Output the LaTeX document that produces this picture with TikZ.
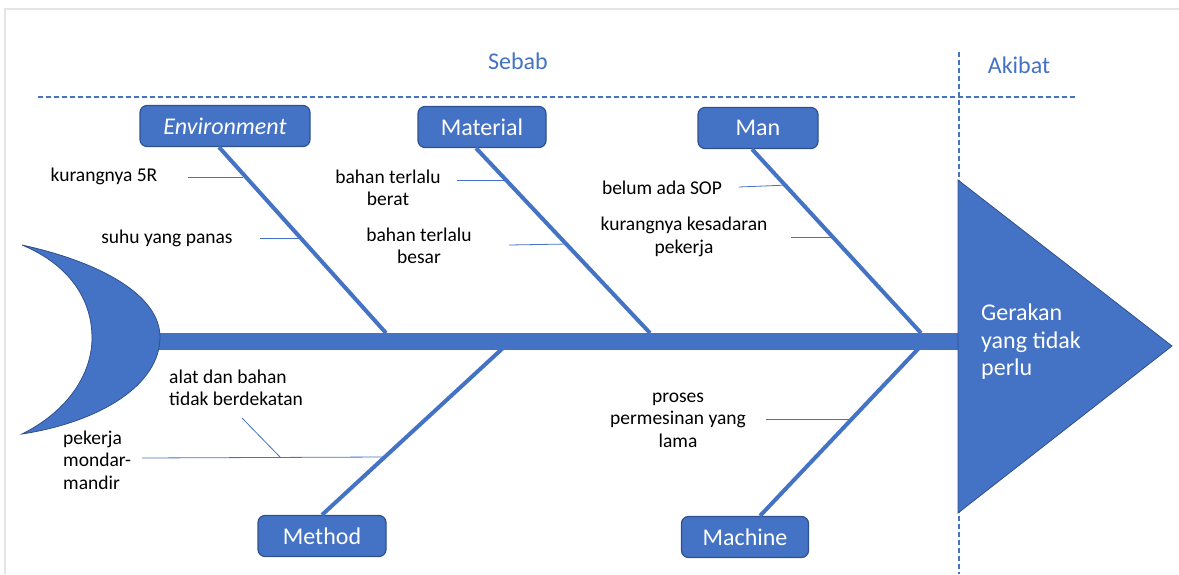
\documentclass[tikz,border=0pt]{standalone}
\usepackage{fontspec}
\setmainfont{Carlito}
\definecolor{fishblue}{HTML}{4472C4}
\definecolor{fishedge}{HTML}{2F528F}

\begin{document}
\begin{tikzpicture}[x=1pt, y=-1pt,
    cat/.style={rectangle, rounded corners=7pt, fill=fishblue, draw=fishedge,
                line width=1.2pt, text=white, minimum height=41pt, inner sep=0pt,
                font=\fontsize{24}{28}\selectfont},
    lbl/.style={inner sep=0pt, align=center, font=\fontsize{19.5}{22.5}\selectfont},
    bone/.style={draw=fishblue, line width=4pt},
    twig/.style={draw=fishblue, line width=0.8pt},
    guide/.style={draw=fishblue, dash pattern=on 5pt off 3pt, line width=1.3pt}]

    \useasboundingbox (0,0) rectangle (1179,574);
    \draw[gray!20, line width=1.5pt] (5,574) -- (5,9) -- (1179,9);

    % headings
    \node[text=fishblue, font=\fontsize{24}{28}\selectfont] (sebab) at (518,61) {Sebab};
    \node[text=fishblue, font=\fontsize{24}{28}\selectfont] (akibat) at (1019,65) {Akibat};
    \draw[guide] (38,97) -- (1075,97);
    \draw[guide] (959,52) -- (959,574);

    % category boxes
    \node[cat, minimum width=170pt] (env) at (225,126) {\itshape Environment};
    \node[cat, minimum width=128pt] (mat) at (482,127) {Material};
    \node[cat, minimum width=120pt] (man) at (758,128) {Man};
    \node[cat, minimum width=128pt] (meth) at (322,536) {Method};
    \node[cat, minimum width=127pt] (mach) at (745,537) {Machine};

    % points on the spine
    \coordinate (e0) at (386,333);
    \coordinate (m0) at (650,333);
    \coordinate (n0) at (921,333);
    \coordinate (t0) at (503,348);
    \coordinate (c0) at (919,348);
    \coordinate (tail) at (155,341);
    \coordinate (head) at (958,341);

    \foreach \i/\j in {env/e0, mat/m0, man/n0} {
        \draw[bone] ([xshift=-6pt]\i.south) -- (\j);
    }
    \draw[bone] (t0) -- (meth.north);
    \draw[bone] (c0) -- ([xshift=15pt]mach.north);
    \draw[fishblue, line width=17pt] (tail) -- (head);

    % tail and head
    \filldraw[fill=fishblue, draw=fishedge, line width=0.8pt]
        (22,245) .. controls (100,262) and (160,295) .. (160,337)
        .. controls (160,385) and (100,422) .. (22,434)
        .. controls (70,410) and (92,372) .. (92,338)
        .. controls (92,300) and (70,265) .. (22,245) -- cycle;
    \filldraw[fill=fishblue, draw=fishedge, line width=0.8pt]
        (958,180) -- (1172,346) -- (958,513) -- cycle;
    \node[anchor=west, align=left, text=white, inner sep=0pt,
          font=\fontsize{24}{27.5}\selectfont] (effect) at (981,342)
        {Gerakan\\yang tidak\\perlu};

    % causes
    \node[lbl] (c1) at (104,176) {kurangnya 5R};
    \node[lbl] (c2) at (167,238) {suhu yang panas};
    \node[lbl] (c3) at (388,188) {bahan terlalu\\berat};
    \node[lbl] (c4) at (419,246) {bahan terlalu\\besar};
    \node[lbl] (c5) at (662,188) {belum ada SOP};
    \node[lbl] (c6) at (684,237) {kurangnya kesadaran\\pekerja};
    \node[lbl, anchor=west, align=left] (c7) at (169,388) {alat dan bahan\\tidak berdekatan};
    \node[lbl, anchor=west, align=left] (c8) at (63,460) {pekerja\\mondar-\\mandir};
    \node[lbl] (c9) at (678,420) {proses\\permesinan yang\\lama};

    \coordinate (k1) at (188,177);  \coordinate (k2) at (243,177);
    \coordinate (s1) at (260,238);  \coordinate (s2) at (299,238);
    \coordinate (b1) at (457,180);  \coordinate (b2) at (508,180);
    \coordinate (r1) at (509,245);  \coordinate (r2) at (568,244);
    \coordinate (p1) at (739,187);  \coordinate (p2) at (788,185);
    \coordinate (q1) at (791,237);  \coordinate (q2) at (835,237);
    \coordinate (a1) at (242,418);  \coordinate (a2) at (280,457);
    \coordinate (w1) at (142,458);  \coordinate (w2) at (385,457);
    \coordinate (x1) at (766,419);  \coordinate (x2) at (850,419);

    \foreach \i/\j in {k1/k2, s1/s2, b1/b2, r1/r2, p1/p2, q1/q2, a1/a2, w1/w2, x1/x2} {
        \draw[twig] (\i) -- (\j);
    }
\end{tikzpicture}
\end{document}
